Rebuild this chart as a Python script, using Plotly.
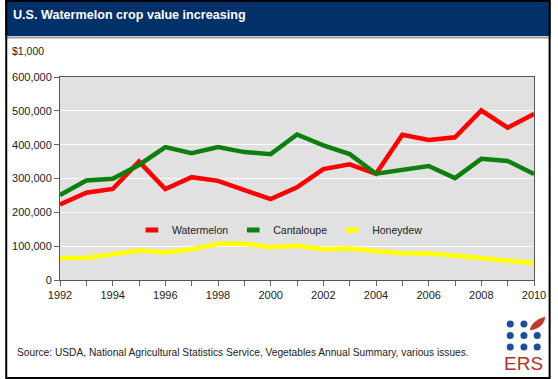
import plotly.graph_objects as go

years = list(range(1992, 2011))
watermelon = [223000, 258000, 269000, 350000, 269000, 304000, 293000, 266000, 239000, 274000,
              328000, 342000, 314000, 429000, 414000, 422000, 501000, 450000, 491000]
cantaloupe = [251000, 294000, 299000, 340000, 393000, 375000, 393000, 378000, 372000, 430000,
              398000, 372000, 314000, 325000, 337000, 301000, 358000, 352000, 313000]
honeydew = [64000, 66000, 76000, 87000, 81000, 91000, 107000, 107000, 97000, 101000,
            91000, 93000, 85000, 79000, 78000, 73000, 65000, 57000, 50000]

series_names = ["Watermelon", "Cantaloupe", "Honeydew"]
series_colors = ["#ff0000", "#0e7e0e", "#ffff00"]
x_tick_vals = years
x_tick_text = [str(y) if y % 2 == 0 else "" for y in years]
y_tick_vals = [0, 100000, 200000, 300000, 400000, 500000, 600000]

W, H = 558, 379
L, R, T, B = 56, 17, 77, 99
PW = W - L - R
PH = H - T - B

def px(x):
    return (x - L) / PW

def py(y):
    return (H - B - y) / PH

FONT = "Arial, 'Liberation Sans', sans-serif"

fig = go.Figure()
for name, vals, col in zip(series_names, [watermelon, cantaloupe, honeydew], series_colors):
    fig.add_trace(go.Scatter(x=years, y=vals, name=name, mode="lines", showlegend=False,
                             line=dict(color=col, width=4.5)))
# legend entries (short rounded bars as in the original key)
for name, col in zip(series_names, series_colors):
    fig.add_trace(go.Scatter(x=[None], y=[None], name=name, mode="markers", showlegend=True,
                             marker=dict(symbol="line-ew", size=9, color=col,
                                         line=dict(color=col, width=5))))

shapes = []
# header
shapes.append(dict(type="rect", xref="paper", yref="paper", x0=px(0), x1=px(W), y0=py(36), y1=py(0),
                   fillcolor="#023069", line=dict(width=0), layer="above"))
shapes.append(dict(type="line", xref="paper", yref="paper", x0=px(0), x1=px(W), y0=py(37.5), y1=py(37.5),
                   line=dict(color="#9a9a9a", width=2)))
# border
shapes.append(dict(type="rect", xref="paper", yref="paper", x0=px(1), x1=px(W - 1), y0=py(H - 1), y1=py(1),
                   line=dict(color="#000000", width=2), fillcolor="rgba(0,0,0,0)"))
# logo dots
dot_xs = [516.7, 530.7, 544.3]
dot_ys = [324, 335.5, 347]
for j, yy in enumerate(dot_ys):
    for i, xx in enumerate(dot_xs):
        if i == 2 and j == 0:
            continue
        r = 3.6
        shapes.append(dict(type="circle", xref="paper", yref="paper",
                           x0=px(xx - r), x1=px(xx + r), y0=py(yy + r), y1=py(yy - r),
                           fillcolor="#1f4e96", line=dict(width=0)))
# leaf
lx, ly = px(537), py(330)
shapes.append(dict(type="path", xref="paper", yref="paper", xsizemode="pixel", ysizemode="pixel",
                   xanchor=lx, yanchor=ly,
                   path="M 0 0 C 1 6, 7 11, 15 13 C 14 6, 9 1, 0 0 Z",
                   fillcolor="#c0392b", line=dict(color="#c0392b", width=0.5)))

annotations = [
    dict(text="<b>U.S. Watermelon crop value increasing</b>", xref="paper", yref="paper",
         x=px(6), y=py(15), xanchor="left", yanchor="middle", showarrow=False,
         font=dict(family=FONT, size=12.6, color="#ffffff")),
    dict(text="$1,000", xref="paper", yref="paper", x=px(5), y=py(51), xanchor="left", yanchor="middle",
         showarrow=False, font=dict(family=FONT, size=10.5, color="#222222")),
    dict(text="Source: USDA, National Agricultural Statistics Service, Vegetables Annual Summary, various issues.",
         xref="paper", yref="paper", x=px(10), y=py(352), xanchor="left", yanchor="middle", showarrow=False,
         font=dict(family=FONT, size=10.2, color="#222222")),
    dict(text="ERS", xref="paper", yref="paper", x=px(530.5), y=py(363), xanchor="center", yanchor="middle",
         showarrow=False, font=dict(family=FONT, size=19, color="#b2302c")),
]

fig.update_layout(
    width=W, height=H, margin=dict(l=L, r=R, t=T, b=B, pad=0),
    paper_bgcolor="#ffffff", plot_bgcolor="#e1e1e1",
    font=dict(family=FONT, size=11, color="#222222"),
    showlegend=True,
    legend=dict(orientation="h", x=px(281), xanchor="center", y=py(230), yanchor="middle",
                bgcolor="rgba(0,0,0,0)", font=dict(family=FONT, size=10.5, color="#222222"),
                itemwidth=30, traceorder="normal"),
    shapes=shapes, annotations=annotations,
    xaxis=dict(range=[1992, 2010], tickvals=x_tick_vals, ticktext=x_tick_text,
               ticks="outside", ticklen=5, tickcolor="#666666", showgrid=False,
               showline=True, linecolor="#555555", linewidth=1, mirror=True, zeroline=False,
               tickfont=dict(family=FONT, size=11, color="#222222")),
    yaxis=dict(range=[0, 600000], tickvals=y_tick_vals, tickformat=",d",
               ticks="outside", ticklen=5, tickcolor="#666666", showgrid=True, gridcolor="#ffffff",
               gridwidth=1, showline=True, linecolor="#555555", linewidth=1, mirror=True, zeroline=False,
               tickfont=dict(family=FONT, size=11, color="#222222")),
)

fig.write_html(
    "out.html",
    config={"displayModeBar": False, "responsive": False},
    post_script=(
        "document.documentElement.style.overflow='hidden';"
        "document.body.style.margin='0';document.body.style.padding='0';"
        "document.body.style.overflow='hidden';"
    ),
)
